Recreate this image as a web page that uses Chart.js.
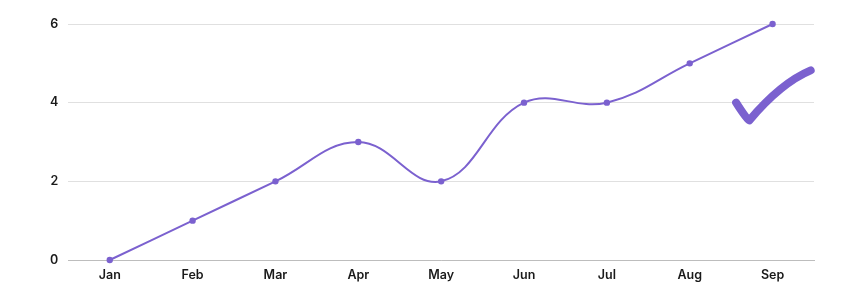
<!DOCTYPE html>
<html>
<head>
<meta charset="utf-8">
<script src="https://cdn.jsdelivr.net/npm/chart.js@4"></script>
<style>
  html, body { margin: 0; padding: 0; background: #fff; }
  #wrap { width: 864px; height: 298px; position: relative; }
</style>
</head>
<body>
<div id="wrap"><canvas id="lineChart"></canvas></div>
<script>
// Chart data
const months = ['Jan', 'Feb', 'Mar', 'Apr', 'May', 'Jun', 'Jul', 'Aug', 'Sep'];
const values = [0, 1, 2, 3, 2, 4, 4, 5, 6];
const yTicks = [0, 2, 4, 6];

const purple = '#7b61cf';

// Draws the hand-drawn check mark next to the last point
const checkMark = {
    id: 'checkMark',
    afterDatasetsDraw(chart) {
        const ctx = chart.ctx;
        const x = chart.scales.x;
        const y = chart.scales.y;
        ctx.save();
        ctx.strokeStyle = purple;
        ctx.lineWidth = 8;
        ctx.lineCap = 'round';
        ctx.lineJoin = 'round';
        ctx.beginPath();
        ctx.moveTo(x.getPixelForValue(7.56), y.getPixelForValue(4.0));
        ctx.quadraticCurveTo(x.getPixelForValue(7.68), y.getPixelForValue(3.6),
                             x.getPixelForValue(7.72), y.getPixelForValue(3.55));
        ctx.quadraticCurveTo(x.getPixelForValue(8.1), y.getPixelForValue(4.5),
                             x.getPixelForValue(8.46), y.getPixelForValue(4.82));
        ctx.stroke();
        ctx.restore();
    }
};

const tickFont = { family: 'Inter', size: 12.5, weight: '600' };

const ctx = document.getElementById('lineChart').getContext('2d');
const lineChart = new Chart(ctx, {
    type: 'line',
    data: {
        labels: months,
        datasets: [{
            data: values,
            borderColor: purple,
            backgroundColor: purple,
            borderWidth: 2,
            pointRadius: 2.2,
            pointHoverRadius: 4,
            tension: 0.4,
            clip: false
        }]
    },
    options: {
        responsive: true,
        maintainAspectRatio: false,
        animation: false,
        layout: { padding: { left: 40, right: 50, top: 24, bottom: 15 } },
        plugins: {
            legend: { display: false },
            tooltip: { enabled: false }
        },
        scales: {
            x: {
                offset: true,
                grid: { display: false },
                border: { color: '#bdbdbd' },
                ticks: {
                    color: '#1a1a1a',
                    font: tickFont,
                    padding: 0
                }
            },
            y: {
                min: 0,
                max: 6,
                afterBuildTicks: function(scale) {
                    scale.ticks = yTicks.map(v => ({ value: v }));
                },
                grid: { color: '#e0e0e0', drawTicks: false },
                border: { display: false },
                ticks: {
                    color: '#1a1a1a',
                    font: tickFont,
                    padding: 10
                }
            }
        }
    },
    plugins: [checkMark]
});
</script>
</body>
</html>
